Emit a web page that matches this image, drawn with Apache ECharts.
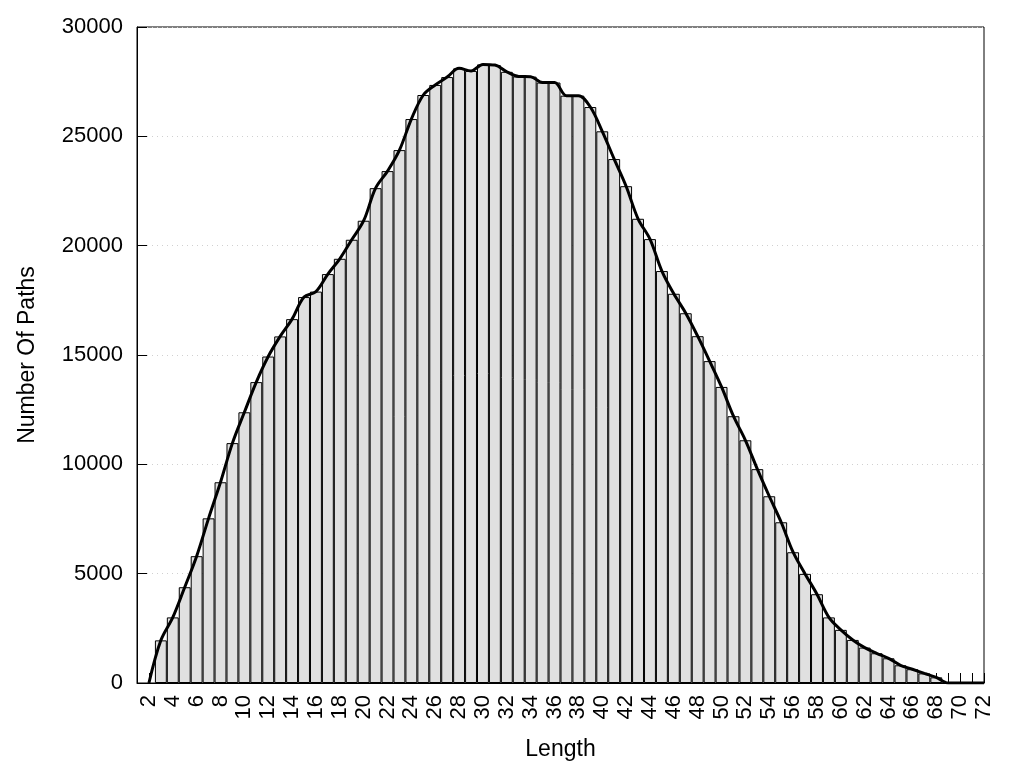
<!DOCTYPE html>
<html>
<head>
<meta charset="utf-8">
<script src="https://cdn.jsdelivr.net/npm/echarts@6/dist/echarts.min.js"></script>
<style>
html,body{margin:0;padding:0;background:#fff;}
#chart{width:1024px;height:768px;}
</style>
</head>
<body>
<div id="chart"></div>
<script>
// Path lengths (x) and number of paths (y)
const lengths = [2,3,4,5,6,7,8,9,10,11,12,13,14,15,16,17,18,19,20,21,22,23,24,25,26,27,28,29,30,31,32,33,34,35,36,37,38,39,40,41,42,43,44,45,46,47,48,49,50,51,52,53,54,55,56,57,58,59,60,61,62,63,64,65,66,67,68,69,70,71,72];
const counts = [0,1950,3000,4380,5800,7530,9180,10970,12380,13760,14930,15850,16640,17650,17900,18700,19400,20270,21140,22630,23410,24370,25790,26890,27350,27710,28110,27990,28290,28260,27950,27740,27730,27460,27460,26860,26860,26340,25230,23960,22720,21230,20300,18840,17800,16910,15860,14720,13540,12200,11100,9780,8540,7350,5980,4990,4060,3000,2430,1970,1620,1360,1130,810,630,440,260,0,0,0,0];
const yTicks = [0,5000,10000,15000,20000,25000,30000];

const pairs = lengths.map((l,i)=>[l,counts[i]]);
const barPairs = pairs.filter(p=>p[1]>0);

const font = '"Liberation Sans", Arial, sans-serif';
const chart = echarts.init(document.getElementById('chart'));
chart.setOption({
  animation:false,
  backgroundColor:'#fff',
  grid:{left:137,right:40,top:27,bottom:85,show:true,borderColor:'#000',borderWidth:1,backgroundColor:'transparent'},
  xAxis:{
    type:'value',min:1,max:72,interval:1,
    name:'Length',nameLocation:'middle',nameGap:55,
    nameTextStyle:{fontFamily:font,fontSize:23,color:'#000'},
    axisLine:{show:true,lineStyle:{color:'#000',width:1}},
    axisTick:{show:true,inside:true,length:10,lineStyle:{color:'#000',width:1}},
    axisLabel:{rotate:90,fontFamily:font,fontSize:22,color:'#000',margin:12,
      formatter:v=>(v%2===0?String(v):'')},
    splitLine:{show:false}
  },
  yAxis:{
    type:'value',min:yTicks[0],max:yTicks[yTicks.length-1],interval:5000,
    name:'Number Of Paths',nameLocation:'middle',nameGap:98,
    nameTextStyle:{fontFamily:font,fontSize:23,color:'#000'},
    axisLine:{show:true,lineStyle:{color:'#000',width:1}},
    axisTick:{show:true,inside:true,length:10,lineStyle:{color:'#000',width:1}},
    axisLabel:{fontFamily:font,fontSize:22,color:'#000',margin:14,formatter:v=>String(v)},
    splitLine:{show:true,lineStyle:{color:'#d0d0d0',type:[1,4],width:1}}
  },
  series:[
    {type:'bar',data:barPairs,barWidth:11.9,
     itemStyle:{color:'#e0e0e0',borderColor:'#000',borderWidth:1}},
    {type:'line',data:pairs,smooth:0.35,symbol:'none',
     lineStyle:{color:'#000',width:3},z:5}
  ]
});
</script>
</body>
</html>
